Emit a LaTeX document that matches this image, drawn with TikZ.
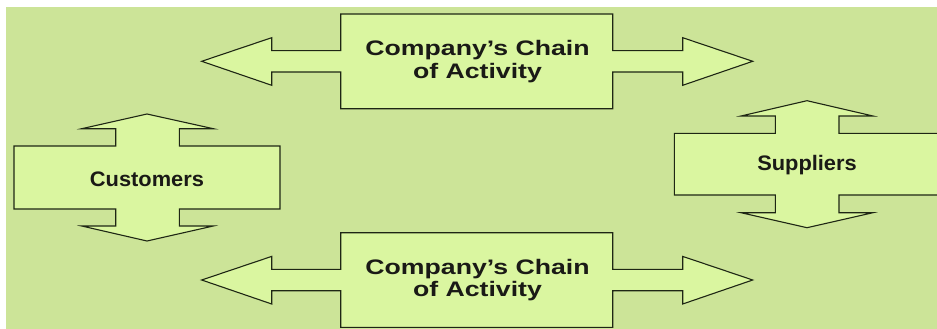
\documentclass[tikz,border=0pt]{standalone}
\usepackage{fontspec}
\usepackage{graphicx}
\setmainfont{Liberation Sans}
\definecolor{bgGreen}{RGB}{204,228,152}
\definecolor{shapeFill}{RGB}{218,246,160}
\definecolor{edgeDark}{RGB}{30,38,20}
\definecolor{txtDark}{RGB}{26,26,22}
\tikzset{
  shapeout/.style={fill=shapeFill, draw=edgeDark, line width=1.1pt, line join=miter},
  lbl/.style={inner sep=0pt, anchor=base, text=txtDark, font=\fontsize{21}{21}\selectfont\bfseries},
}
\newcommand{\widetxt}[1]{\scalebox{1.27}[1]{#1}}
\newcommand{\slighttxt}[1]{\scalebox{1.04}[1]{#1}}
\begin{document}
\begin{tikzpicture}[x=1pt,y=-1pt]
\useasboundingbox (0,0) rectangle (937,329);
\fill[white] (0,0) rectangle (937,329);
\fill[bgGreen] (6,7) rectangle (937,329);
\begin{scope}
\clip (0,0) rectangle (937,329);
% top chain shape
\draw[shapeout] (340.7,14) -- (612.7,14) -- (612.7,50.7) -- (682.7,50.7) -- (682.7,37.7)
  -- (752.7,61.3) -- (682.7,85.3) -- (682.7,72) -- (612.7,72) -- (612.7,108.7)
  -- (340.7,108.7) -- (340.7,72) -- (271.7,72) -- (271.7,85.3) -- (201.7,61.3)
  -- (271.7,37.7) -- (271.7,50.7) -- (340.7,50.7) -- cycle;
% bottom chain shape
\begin{scope}[yshift=-218.7pt]
\draw[shapeout] (340.7,14) -- (612.7,14) -- (612.7,50.7) -- (682.7,50.7) -- (682.7,37.7)
  -- (752.7,61.3) -- (682.7,85.3) -- (682.7,72) -- (612.7,72) -- (612.7,108.7)
  -- (340.7,108.7) -- (340.7,72) -- (271.7,72) -- (271.7,85.3) -- (201.7,61.3)
  -- (271.7,37.7) -- (271.7,50.7) -- (340.7,50.7) -- cycle;
\end{scope}
% customers shape
\draw[shapeout] (14,146) -- (115.7,146) -- (115.7,128.7) -- (81.7,128.7) -- (147,114)
  -- (213.3,128.7) -- (179.3,128.7) -- (179.3,146) -- (280,146) -- (280,209)
  -- (179.3,209) -- (179.3,226) -- (213.3,226) -- (147,241) -- (81.7,226)
  -- (115.7,226) -- (115.7,209) -- (14,209) -- cycle;
% suppliers shape
\draw[shapeout] (674.3,133.3) -- (775.3,133.3) -- (775.3,116) -- (741,116) -- (807,100.7)
  -- (873,116) -- (839,116) -- (839,133.3) -- (939.7,133.3) -- (939.7,195)
  -- (839,195) -- (839,212.7) -- (873,212.7) -- (807,227.7) -- (741,212.7)
  -- (775.3,212.7) -- (775.3,195) -- (674.3,195) -- cycle;
\end{scope}
% labels
\node[lbl] (topA) at (477.5,55.7) {\widetxt{Company’s Chain}};
\node[lbl] (topB) at (477.5,78) {\widetxt{of Activity}};
\node[lbl] (botA) at (477.5,274.4) {\widetxt{Company’s Chain}};
\node[lbl] (botB) at (477.5,296.7) {\widetxt{of Activity}};
\node[lbl] (cust) at (147,186) {\slighttxt{Customers}};
\node[lbl] (supp) at (807,170) {\slighttxt{Suppliers}};
\end{tikzpicture}
\end{document}
